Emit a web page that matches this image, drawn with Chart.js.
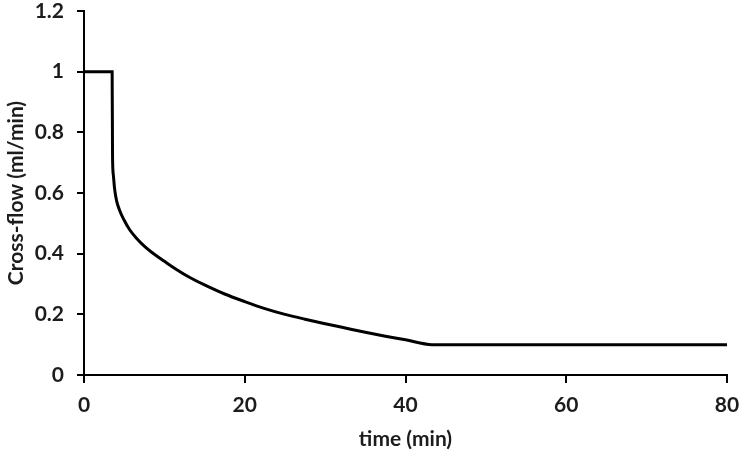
<!DOCTYPE html>
<html>
<head>
<meta charset="utf-8">
<script src="https://cdn.jsdelivr.net/npm/chart.js@4.4.0/dist/chart.umd.min.js"></script>
<style>
  html, body { margin: 0; padding: 0; background: #fff; }
  #wrap { width: 742px; height: 456px; }
</style>
</head>
<body>
<div id="wrap"><canvas id="myChart" width="742" height="456"></canvas></div>
<script>
// time (min) and cross-flow (ml/min)
const timeMin = [0, 3.5, 3.55, 3.65, 3.8, 4.05, 4.4, 5, 5.7, 6.5, 7.5, 8.5, 10, 11.5, 13, 15, 17.5, 20, 22.5, 25, 27.5, 30, 32.5, 35, 37.5, 40, 43.3, 80];
const crossFlow = [1, 1, 0.72, 0.66, 0.615, 0.575, 0.545, 0.51, 0.478, 0.452, 0.425, 0.403, 0.375, 0.348, 0.324, 0.297, 0.267, 0.242, 0.219, 0.2, 0.184, 0.169, 0.155, 0.141, 0.128, 0.116, 0.1, 0.1];

const xTitle = 'time (min)';
const yTitle = 'Cross-flow (ml/min)';

const points = timeMin.map((t, i) => ({x: t, y: crossFlow[i]}));

const font = {family: 'Lato, "Liberation Sans", sans-serif', weight: 'bold', size: 21};
const textColor = '#1c1c1c';

const config = {
  type: 'scatter',
  data: {
    datasets: [{
      data: points,
      showLine: true,
      borderColor: '#000',
      borderWidth: 3,
      pointRadius: 0,
      cubicInterpolationMode: 'monotone'
    }]
  },
  options: {
    responsive: false,
    animation: false,
    layout: {padding: {top: 11, right: 15, left: 0, bottom: 0}},
    plugins: {legend: {display: false}, tooltip: {enabled: false}},
    scales: {
      x: {
        type: 'linear',
        min: 0, max: 80,
        ticks: {stepSize: 20, color: textColor, font: font, padding: 10},
        grid: {drawOnChartArea: false, drawTicks: true, tickLength: 8, color: '#000', lineWidth: 2},
        border: {display: true, color: '#000', width: 2},
        title: {display: true, text: xTitle, color: textColor, font: font, padding: {top: 2}},
        afterFit: (s) => { s.height = 81; s.paddingLeft = 0; s.paddingRight = 0; }
      },
      y: {
        min: 0, max: 1.2,
        ticks: {
          stepSize: 0.2, color: textColor, font: font, padding: 13,
          callback: (v) => String(Math.round(v * 10) / 10)
        },
        grid: {drawOnChartArea: false, drawTicks: true, tickLength: 7, color: '#000', lineWidth: 2},
        border: {display: true, color: '#000', width: 2},
        title: {display: true, text: yTitle, color: textColor, font: font, padding: {bottom: 0}},
        afterFit: (s) => { s.width = 84; s.paddingTop = 0; s.paddingBottom = 0; }
      }
    }
  }
};

const ctx = document.getElementById('myChart').getContext('2d');
const myChart = new Chart(ctx, config);
</script>
</body>
</html>
